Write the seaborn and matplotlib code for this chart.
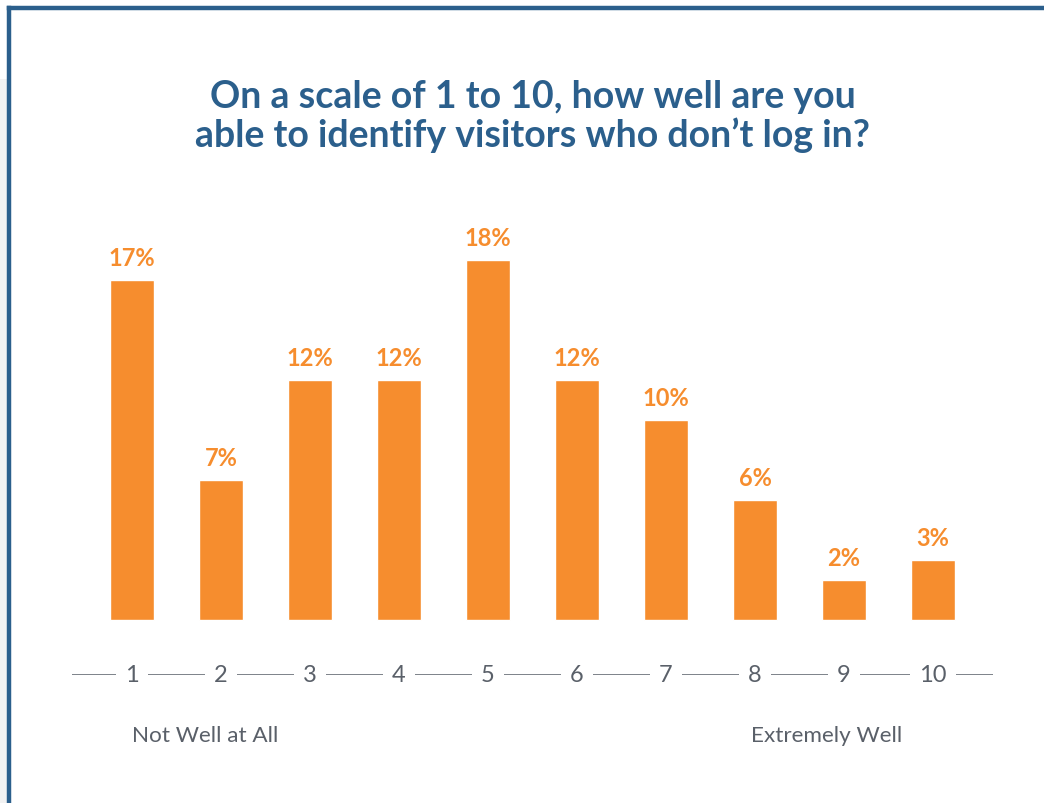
import matplotlib
matplotlib.use("Agg")
import matplotlib.pyplot as plt
import seaborn as sns
from matplotlib.lines import Line2D
from matplotlib.patches import Rectangle

categories = ["1", "2", "3", "4", "5", "6", "7", "8", "9", "10"]
values = [17, 7, 12, 12, 18, 12, 10, 6, 2, 3]
title = "On a scale of 1 to 10, how well are you\nable to identify visitors who don\u2019t log in?"
low_label = "Not Well at All"
high_label = "Extremely Well"

ORANGE = "#F68D2E"
BLUE = "#2B5F8C"
GRAY = "#5A6069"

sns.set_theme(style="white")
plt.rcParams["font.family"] = ["Lato", "DejaVu Sans"]

W, H = 1044, 804
fig = plt.figure(figsize=(W / 100, H / 100), dpi=100)
fig.patch.set_facecolor("white")

# frame decorations
fig.add_artist(Rectangle((0, 0), 7 / W, 1 - 80 / H, transform=fig.transFigure,
                         facecolor="#F2F2F2", edgecolor="none", zorder=0))
fig.add_artist(Line2D([9 / W, 9 / W], [0, 1 - 9 / H], transform=fig.transFigure,
                      color=BLUE, lw=3.2, solid_capstyle="projecting"))
fig.add_artist(Line2D([9 / W, 1], [1 - 9 / H, 1 - 9 / H], transform=fig.transFigure,
                      color=BLUE, lw=3.2, solid_capstyle="projecting"))

# axes placement: category spacing ~89 px, baseline at y=621 px, 20 px per %
xlo, xhi = -0.67, 9.67
ylo, yhi = -2.75, 20
left_px = 132 + xlo * 89
width_px = (xhi - xlo) * 89
bottom_px = 676
height_px = (yhi - ylo) * 20
ax = fig.add_axes([left_px / W, (H - bottom_px) / H, width_px / W, height_px / H])
ax.set_facecolor("none")

sns.barplot(x=categories, y=values, color=ORANGE, saturation=1, width=0.5, ax=ax)
ax.bar_label(ax.containers[0], labels=[f"{v}%" for v in values], padding=8,
             color=ORANGE, fontsize=17, fontweight="bold")

ax.set_xlim(xlo, xhi)
ax.set_ylim(ylo, yhi)
for s in ax.spines.values():
    s.set_visible(False)
ax.set_xticks([])
ax.set_yticks([])
ax.set_xlabel("")
ax.set_ylabel("")

ax.axhline(ylo, color=GRAY, lw=1.1, zorder=1)
for i, c in enumerate(categories):
    ax.text(i, ylo, c, ha="center", va="center", fontsize=17, color=GRAY, zorder=3,
            bbox=dict(boxstyle="square,pad=0.38", facecolor="white", edgecolor="none"))

ax.text(0, ylo - 3.0, low_label, ha="left", va="center", fontsize=16.2, color=GRAY,
        clip_on=False)
ax.text(6.95, ylo - 3.0, high_label, ha="left", va="center", fontsize=16.2, color=GRAY,
        clip_on=False)

fig.text(0.51, 1 - 116.5 / H, title, ha="center", va="center", fontsize=27,
         fontweight="bold", color=BLUE, linespacing=1.12)

fig.savefig("out.png", dpi=100, facecolor="white")
